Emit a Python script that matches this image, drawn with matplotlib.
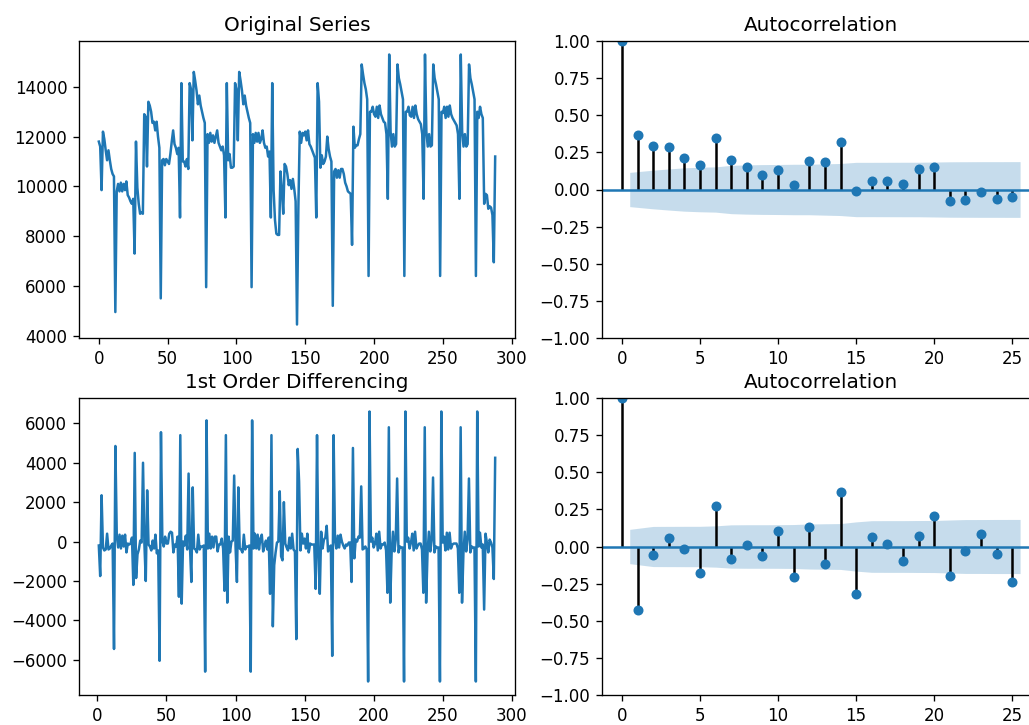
import numpy as np
import pandas as pd
import matplotlib.pyplot as plt

# daily values
series = [
    11800, 11600, 9850, 12200, 11900, 11450, 11050, 11450, 11050, 10700, 10500, 10400,
    4950,
    9800, 10100, 9800, 10150, 9800, 10100, 9850, 10200, 9650, 9550, 9400, 9300, 9500,
    7300, 11800,
    9950, 9300, 8900, 8950, 8900, 12900, 12800, 10800, 13400, 13250, 13000, 12550, 12600,
    12250, 12600, 12000, 11550,
    5500,
    11050, 11100, 10850, 11100, 11000, 10900, 11300, 11800, 12250, 11700, 11550, 11300, 11550,
    8750, 14150,
    11000, 11000, 10800, 11100, 10700, 14150, 13900, 11850, 14600, 14250, 13850, 13300, 13650,
    13250, 13000, 12750, 12550,
    5950,
    12100, 11750, 12150, 11800, 12050, 11750, 12000, 12250, 11750, 11600, 11450, 11600, 11250,
    8750, 14150,
    11050, 11300, 10750, 10750, 10800, 14150, 13900, 11850, 14600, 14250, 13850, 13300, 13650,
    13250, 13000, 12750, 12550,
    5950,
    12100, 11750, 12150, 11800, 12150, 11750, 11900, 12250, 11750, 11550, 11600, 11200, 11400,
    8750, 14150,
    9850, 8650, 8100, 8050, 8050, 10600, 9850, 8900, 10900, 10800, 10500, 10050, 10250,
    9900, 10300, 9900, 9400,
    4450, 9150,
    12200, 11750, 12150, 12050, 12200, 11850, 12250, 11700, 11600, 11450, 11300, 11150,
    8750, 14150,
    13400, 10750, 11250, 10900, 11000, 11200, 12000, 11500, 11200, 11000,
    5200,
    10600, 10700, 10350, 10650, 10350, 10700, 10700, 10500, 10150, 10000, 9800, 9750, 9700,
    7650,
    12400, 11550, 11650, 11650, 11900, 12100,
    14900, 14500, 14150, 13900, 13500,
    6400,
    13000, 13000, 13200, 12900, 12800, 13200, 12750, 13250, 12900, 12750, 12600, 12550, 12100,
    9500, 15300,
    12200, 11600, 12100, 11600, 11700,
    14900, 14350, 14100, 13800, 13500,
    6400,
    13000, 13000, 13200, 12850, 12800, 13200, 12750, 13250, 12900, 12700, 12600, 12500, 12100,
    9500, 15300,
    12200, 11600, 12100, 11600, 11650,
    14900, 14350, 14100, 13800, 13500,
    6400,
    13000, 12950, 13200, 12750, 13200, 12800, 13250, 12900, 12750, 12650, 12550, 12450, 12100,
    9500, 15300,
    12200, 11600, 12100, 11600, 11700,
    14900, 14350, 14100, 13800, 13500,
    6400,
    13000, 12750, 13200, 12900, 12750,
    9300, 9700, 9650, 9100, 9200, 9150, 8850, 6950, 11200,
]

# autocorrelation, lags 0..25
acf_orig = [1.0, 0.37, 0.29, 0.285, 0.21, 0.165, 0.35, 0.20, 0.15, 0.10, 0.13, 0.03, 0.19,
            0.185, 0.32, -0.01, 0.06, 0.06, 0.04, 0.14, 0.15, -0.08, -0.07, -0.02, -0.065, -0.05]
acf_diff = [1.0, -0.43, -0.06, 0.06, -0.02, -0.18, 0.27, -0.085, 0.01, -0.065, 0.105, -0.205,
            0.13, -0.12, 0.37, -0.32, 0.065, 0.02, -0.10, 0.07, 0.205, -0.20, -0.03, 0.085,
            -0.05, -0.24]


def acf_panel(ax, acf, nobs):
    acf = np.asarray(acf)
    lags = np.arange(len(acf))
    ax.vlines(lags, [0], acf, colors="black")
    ax.axhline(0, color="C0")
    ax.margins(0.05)
    ax.plot(lags, acf, marker="o", markersize=5, linestyle="None", color="C0")
    ax.set_title("Autocorrelation")
    ax.set_ylim(-1, 1)

    # Bartlett band, skipping lag 0 like statsmodels does
    var = np.ones(len(acf)) / nobs
    var[0] = 0
    var[2:] *= 1 + 2 * np.cumsum(acf[1:-1] ** 2)
    half = 1.96 * np.sqrt(var)
    x = lags[1:].astype(float)
    x[0] -= 0.5
    x[-1] += 0.5
    ax.fill_between(x, -half[1:], half[1:], alpha=0.25, color="C0", linewidth=0)


df = pd.DataFrame({"value": series})

W, H, DPI = 1029, 725, 120
fig = plt.figure(figsize=(W / DPI, H / DPI), dpi=DPI)


def rect(x0, x1, top, bottom):
    return [x0 / W, 1 - bottom / H, (x1 - x0) / W, (bottom - top) / H]


ax1 = fig.add_axes(rect(79, 515, 41, 338))
ax2 = fig.add_axes(rect(602, 1040, 41, 338))
ax3 = fig.add_axes(rect(79, 515, 398, 695))
ax4 = fig.add_axes(rect(602, 1040, 398, 695))

ax1.plot(df["value"])
ax1.set_title("Original Series")
acf_panel(ax2, acf_orig, len(df))

diff = df["value"].diff()
ax3.plot(diff)
ax3.set_title("1st Order Differencing")
acf_panel(ax4, acf_diff, len(diff.dropna()))

fig.savefig("out.png", dpi=DPI)
